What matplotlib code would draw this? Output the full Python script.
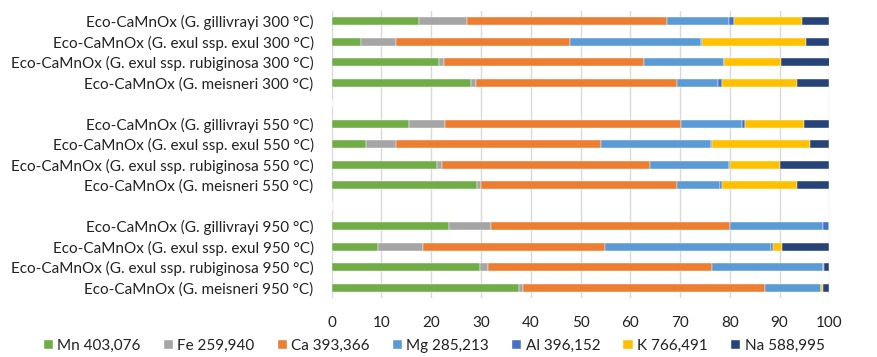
import matplotlib
matplotlib.use('Agg')
import matplotlib.pyplot as plt
import numpy as np

plt.rcParams['font.family'] = ['Lato', 'DejaVu Sans']

samples = [
    'Eco-CaMnOx (G. gillivrayi 300 °C)',
    'Eco-CaMnOx (G. exul ssp. exul 300 °C)',
    'Eco-CaMnOx (G. exul ssp. rubiginosa 300 °C)',
    'Eco-CaMnOx (G. meisneri 300 °C)',
    '',
    'Eco-CaMnOx (G. gillivrayi 550 °C)',
    'Eco-CaMnOx (G. exul ssp. exul 550 °C)',
    'Eco-CaMnOx (G. exul ssp. rubiginosa 550 °C)',
    'Eco-CaMnOx (G. meisneri 550 °C)',
    '',
    'Eco-CaMnOx (G. gillivrayi 950 °C)',
    'Eco-CaMnOx (G. exul ssp. exul 950 °C)',
    'Eco-CaMnOx (G. exul ssp. rubiginosa 950 °C)',
    'Eco-CaMnOx (G. meisneri 950 °C)',
]

elements = ['Mn 403,076', 'Fe 259,940', 'Ca 393,366', 'Mg 285,213',
            'Al 396,152', 'K 766,491', 'Na 588,995']
colors = ['#70AD47', '#A5A5A5', '#ED7D31', '#5B9BD5', '#4472C4', '#FFC000', '#264478']

# percentage per element, one value per row (blank rows = 0)
mn = [17.6, 5.8, 21.6, 27.9, 0, 15.5, 6.8, 21.2, 29.1, 0, 23.6, 9.3, 29.9, 37.7]
fe = [9.5, 7.1, 1.0, 1.0, 0, 7.3, 6.1, 1.0, 1.0, 0, 8.4, 9.1, 1.5, 0.8]
ca = [40.3, 35.0, 40.2, 40.4, 0, 47.3, 41.2, 41.7, 39.2, 0, 48.0, 36.6, 45.0, 48.6]
mg = [12.5, 26.3, 16.0, 8.4, 0, 12.3, 22.1, 16.0, 8.7, 0, 18.7, 33.2, 22.4, 11.2]
al = [0.9, 0.3, 0.1, 0.7, 0, 0.6, 0.2, 0.1, 0.4, 0, 1.3, 0.5, 0.2, 0.1]
k = [13.8, 20.8, 11.3, 15.1, 0, 12.0, 19.7, 10.1, 15.1, 0, 0.0, 1.8, 0.0, 0.3]
na = [5.4, 4.7, 9.9, 6.5, 0, 5.0, 3.9, 9.9, 6.5, 0, 0.0, 9.5, 1.0, 1.3]

series = [mn, fe, ca, mg, al, k, na]

fig = plt.figure(figsize=(8.77, 3.57), dpi=100)
ax = fig.add_axes([331.7 / 877, 1 - 298 / 357, (829.3 - 331.7) / 877, 287 / 357])

y = np.arange(len(samples))
left = np.zeros(len(samples))
for vals, name, c in zip(series, elements, colors):
    vals = np.array(vals)
    ax.barh(y, vals, left=left, height=0.4, color=c, label=name,
            edgecolor='white', linewidth=0.3, zorder=3)
    left += vals

ax.set_xlim(0, 100)
ax.set_ylim(len(samples) - 0.5, -0.5)
ax.set_xticks(np.arange(0, 101, 10))
ax.set_yticks(y)
ax.set_yticklabels(samples)
ax.tick_params(axis='both', length=0, labelsize=11, colors='#222222')
ax.tick_params(axis='x', pad=13)
ax.tick_params(axis='y', pad=13)
ax.grid(axis='x', color='#D9D9D9', linewidth=1, zorder=0)
for s in ax.spines.values():
    s.set_visible(False)

ax.legend(loc='center', bbox_to_anchor=(434 / 877, 1 - 346 / 357), bbox_transform=fig.transFigure,
          ncol=7, frameon=False, fontsize=11, handlelength=0.6, handleheight=0.6,
          handletextpad=0.3, columnspacing=1.5, labelcolor='#222222')

fig.savefig('out.png', dpi=100, facecolor='white')
